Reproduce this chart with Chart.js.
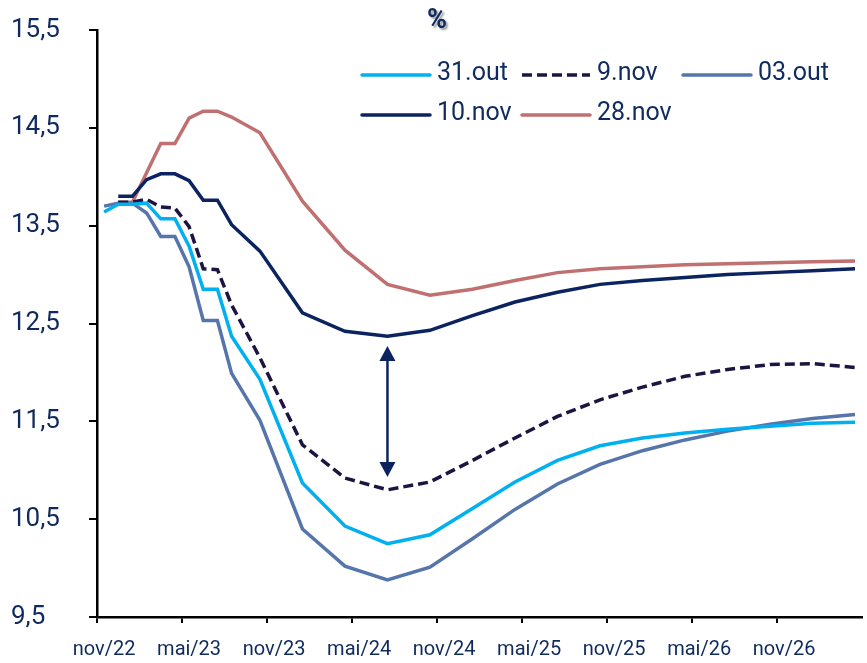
<!DOCTYPE html>
<html>
<head>
<meta charset="utf-8">
<script src="https://cdn.jsdelivr.net/npm/chart.js@4.4.1/dist/chart.umd.min.js"></script>
<style>
  html, body { margin: 0; padding: 0; background: #fff; overflow: hidden; }
  #wrap { width: 870px; height: 663px; }
</style>
</head>
<body>
<div id="wrap"><canvas id="selicCan"></canvas></div>
<script>
// months on the x axis (one category per month)
const months = [
  'nov/22', 'dez/22',
  'jan/23', 'fev/23', 'mar/23', 'abr/23', 'mai/23', 'jun/23', 'jul/23', 'ago/23', 'set/23', 'out/23', 'nov/23', 'dez/23',
  'jan/24', 'fev/24', 'mar/24', 'abr/24', 'mai/24', 'jun/24', 'jul/24', 'ago/24', 'set/24', 'out/24', 'nov/24', 'dez/24',
  'jan/25', 'fev/25', 'mar/25', 'abr/25', 'mai/25', 'jun/25', 'jul/25', 'ago/25', 'set/25', 'out/25', 'nov/25', 'dez/25',
  'jan/26', 'fev/26', 'mar/26', 'abr/26', 'mai/26', 'jun/26', 'jul/26', 'ago/26', 'set/26', 'out/26', 'nov/26', 'dez/26',
  'jan/27', 'fev/27', 'mar/27', 'abr/27'
]
const tickLabels = ['nov/22', 'mai/23', 'nov/23', 'mai/24', 'nov/24', 'mai/25', 'nov/25', 'mai/26', 'nov/26']
const yTicks = { min: 9.5, max: 15.5, step: 1 }

// series (null = no point that month, line is drawn straight across)
const s31out = [
  13.64, 13.72, 13.72, 13.73, 13.57, 13.57, 13.29, 12.85, 12.85, 12.37, null, 11.93,
  null, null, 10.87, null, null, 10.43, null, null, 10.25, null, null, 10.34,
  null, null, 10.61, null, null, 10.88, null, null, 11.10, null, null, 11.25,
  null, null, 11.33, null, null, 11.38, null, null, 11.42, null, null, 11.45,
  null, null, 11.48, null, null, 11.49
]
const s9nov = [
  null, 13.74, 13.74, 13.77, 13.69, 13.68, 13.49, 13.06, 13.05, 12.69, null, 12.15,
  null, null, 11.26, null, null, 10.92, null, null, 10.80, null, null, 10.88,
  null, null, 11.10, null, null, 11.33, null, null, 11.55, null, null, 11.72,
  null, null, 11.85, null, null, 11.96, null, null, 12.03, null, null, 12.08,
  null, null, 12.09, null, null, 12.05
]
const s03out = [
  13.70, 13.73, 13.73, 13.63, 13.39, 13.39, 13.08, 12.53, 12.53, 11.99, null, 11.51,
  null, null, 10.40, null, null, 10.02, null, null, 9.88, null, null, 10.01,
  null, null, 10.30, null, null, 10.60, null, null, 10.86, null, null, 11.06,
  null, null, 11.20, null, null, 11.31, null, null, 11.40, null, null, 11.47,
  null, null, 11.53, null, null, 11.57
]
const s10nov = [
  null, 13.80, 13.80, 13.97, 14.03, 14.03, 13.96, 13.76, 13.76, 13.51, null, 13.24,
  null, null, 12.61, null, null, 12.42, null, null, 12.37, null, null, 12.43,
  null, null, 12.58, null, null, 12.72, null, null, 12.82, null, null, 12.90,
  null, null, 12.94, null, null, 12.97, null, null, 13.00, null, null, 13.02,
  null, null, 13.04, null, null, 13.06
]
const s28nov = [
  null, 13.74, 13.74, 14.04, 14.34, 14.34, 14.60, 14.67, 14.67, 14.61, null, 14.45,
  null, null, 13.75, null, null, 13.25, null, null, 12.90, null, null, 12.79,
  null, null, 12.85, null, null, 12.94, null, null, 13.02, null, null, 13.06,
  null, null, 13.08, null, null, 13.10, null, null, 13.11, null, null, 13.12,
  null, null, 13.13, null, null, 13.14
]

// double arrow between 10.nov and 9.nov
const arrowAt = 'jul/24'
const arrowSpan = [12.27, 10.93]

const textColor = '#0f2a5c'
const fontName = 'Roboto, "Noto Sans", sans-serif'

const datasets = [
  { label: '31.out', data: s31out, borderColor: '#00b0f0' },
  { label: '9.nov', data: s9nov, borderColor: '#1d1442', borderDash: [10, 5] },
  { label: '03.out', data: s03out, borderColor: '#5675ab' },
  { label: '10.nov', data: s10nov, borderColor: '#0b2460' },
  { label: '28.nov', data: s28nov, borderColor: '#c07070' }
].map(d => Object.assign({ borderWidth: 3.5, pointRadius: 0, tension: 0, spanGaps: true, fill: false }, d))

// legend grid, title and arrow
const overlay = {
  id: 'overlay',
  afterDatasetsDraw(chart) {
    const c = chart.ctx
    const x = chart.scales.x.getPixelForValue(months.indexOf(arrowAt))
    const yTop = chart.scales.y.getPixelForValue(arrowSpan[0])
    const yBot = chart.scales.y.getPixelForValue(arrowSpan[1])
    const head = 15, half = 8
    c.save()
    c.strokeStyle = '#0b2460'
    c.fillStyle = '#0b2460'
    c.lineWidth = 2.5
    c.beginPath()
    c.moveTo(x, yTop + head - 2)
    c.lineTo(x, yBot - head + 2)
    c.stroke()
    c.beginPath()
    c.moveTo(x, yTop); c.lineTo(x - half, yTop + head); c.lineTo(x + half, yTop + head); c.closePath()
    c.fill()
    c.beginPath()
    c.moveTo(x, yBot); c.lineTo(x - half, yBot - head); c.lineTo(x + half, yBot - head); c.closePath()
    c.fill()
    c.restore()
  },
  afterDraw(chart) {
    const c = chart.ctx
    c.save()
    // title
    c.font = 'bold 27px ' + fontName
    c.textAlign = 'center'
    c.textBaseline = 'middle'
    c.fillStyle = textColor
    c.shadowColor = 'rgba(0,0,0,0.4)'
    c.shadowOffsetX = 2
    c.shadowOffsetY = 2
    c.shadowBlur = 2
    c.fillText('%', 437, 21)
    c.restore()

    // legend
    const cols = [362, 522, 683]
    const rows = [75, 115]
    c.save()
    c.font = '25px ' + fontName
    c.textAlign = 'left'
    c.textBaseline = 'middle'
    chart.data.datasets.forEach((ds, i) => {
      const lx = cols[i % 3], ly = rows[Math.floor(i / 3)]
      c.strokeStyle = ds.borderColor
      c.lineWidth = 3.5
      c.lineCap = ds.borderDash ? 'butt' : 'round'
      c.setLineDash(ds.borderDash || [])
      c.beginPath()
      c.moveTo(lx, ly)
      c.lineTo(lx + 68, ly)
      c.stroke()
      c.setLineDash([])
      c.fillStyle = textColor
      c.fillText(ds.label, lx + 75, ly - 1)
    })
    c.restore()
  }
}

new Chart(document.getElementById('selicCan'), {
  type: 'line',
  data: { labels: months, datasets: datasets },
  options: {
    responsive: true,
    maintainAspectRatio: false,
    animation: false,
    layout: { padding: { top: 30, left: 11, right: 0, bottom: 0 } },
    plugins: { legend: { display: false }, tooltip: { enabled: false } },
    scales: {
      x: {
        offset: true,
        grid: {
          offset: true,
          drawOnChartArea: false,
          tickLength: 6,
          lineWidth: 2,
          tickColor: ctx => (tickLabels.includes(months[ctx.index]) ? '#000' : 'rgba(0,0,0,0)')
        },
        border: { color: '#000', width: 2.5 },
        ticks: {
          autoSkip: false,
          maxRotation: 0,
          minRotation: 0,
          padding: 15,
          color: textColor,
          font: { family: fontName, size: 20 },
          callback: (v, i) => (tickLabels.includes(months[i]) ? months[i] : '')
        },
        afterFit: s => { s.height = 46 }
      },
      y: {
        min: yTicks.min,
        max: yTicks.max,
        grid: { drawOnChartArea: false, tickLength: 8, lineWidth: 2, color: '#000' },
        border: { color: '#000', width: 2.5 },
        ticks: {
          stepSize: yTicks.step,
          crossAlign: 'far',
          color: textColor,
          font: { family: fontName, size: 26 },
          callback: v => v.toFixed(1).replace('.', ',')
        },
        afterFit: s => { s.width = 86 }
      }
    }
  },
  plugins: [overlay]
})
</script>
</body>
</html>
